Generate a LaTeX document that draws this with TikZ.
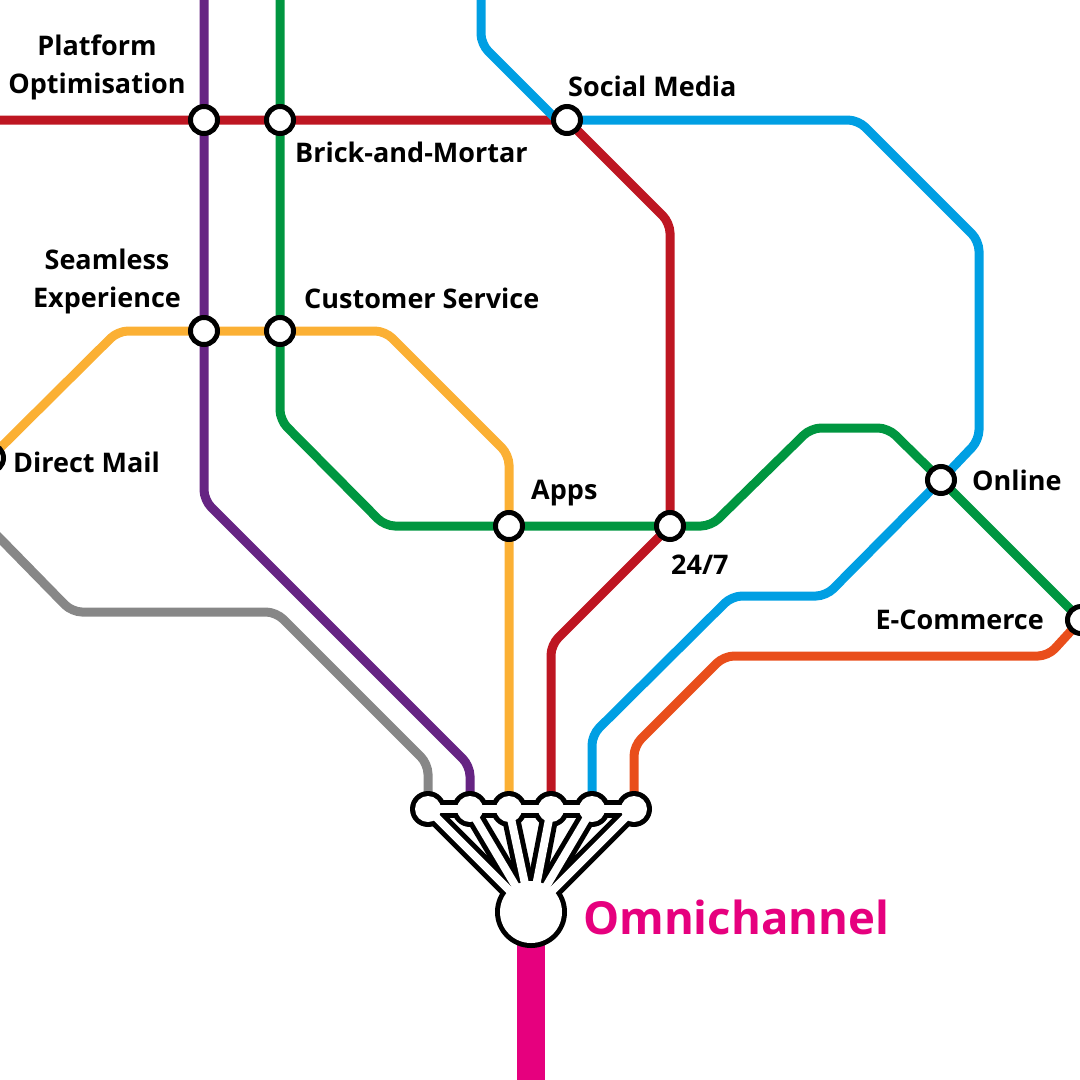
\documentclass[tikz,border=0pt]{standalone}
\usepackage{fontspec}
\setmainfont{Open Sans}
\usetikzlibrary{backgrounds}
\definecolor{cred}{HTML}{BE1622}
\definecolor{cpurple}{HTML}{662483}
\definecolor{cgreen}{HTML}{009640}
\definecolor{camber}{HTML}{FBB034}
\definecolor{cblue}{HTML}{009FE3}
\definecolor{cgrey}{HTML}{878787}
\definecolor{corange}{HTML}{E94E1B}
\definecolor{cpink}{HTML}{E6007E}
\pgfdeclarelayer{lines}
\pgfdeclarelayer{casing}
\pgfdeclarelayer{fan}
\pgfsetlayers{lines,casing,fan,main}
\tikzset{
  metro/.style={line width=9pt,rounded corners=10pt},
  station/.style={circle,draw=black,fill=white,line width=5pt,minimum size=27pt,inner sep=0pt},
  hubnode/.style={circle,fill=white,minimum size=26pt,inner sep=0pt},
  hubcase/.style={line width=18pt,black},
  hubwhite/.style={line width=8pt,white},
  lab/.style={font=\fontsize{27}{38}\selectfont\bfseries,text=black,inner sep=0pt,align=center},
}
\begin{document}
\begin{tikzpicture}[x=1pt,y=-1pt]
\useasboundingbox (0,0) rectangle (1080,1080);
\clip (0,0) rectangle (1080,1080);
% stations
\node[station] (plat) at (204,120) {};
\node[station] (brick) at (280,120) {};
\node[station] (social) at (567,120) {};
\node[station] (seam) at (204,331) {};
\node[station] (cust) at (280,331) {};
\node[station] (dmail) at (-10,458) {};
\node[station] (apps) at (509,526) {};
\node[station] (h247) at (670,526) {};
\node[station] (online) at (941,480) {};
\node[station] (ecom) at (1081,620) {};
% hub
\node[hubnode] (h1) at (428,809) {};
\node[hubnode] (h2) at (470,809) {};
\node[hubnode] (h3) at (509,809) {};
\node[hubnode] (h4) at (551,809) {};
\node[hubnode] (h5) at (592,809) {};
\node[hubnode] (h6) at (634,809) {};
\node[circle,fill=white,minimum size=62pt,inner sep=0pt] (omni) at (531,912) {};
\coordinate (tl) at (0,120);
\coordinate (bot) at (531,1080);
% lines
\begin{pgfonlayer}{lines}
\draw[metro,cred] (tl) -- (plat.center) -- (brick.center) -- (social.center) -- (670,223) -- (h247.center) -- (551,645) -- (h4.center);
\draw[metro,cpurple] (204,-5) -- (plat.center) -- (seam.center) -- (204,500) -- (470,766) -- (h2.center);
\draw[metro,cgreen] (280,-5) -- (brick.center) -- (cust.center) -- (280,420) -- (385,526) -- (apps.center) -- (h247.center) -- (711,526) -- (811,428) -- (888,428) -- (online.center) -- (ecom.center);
\draw[metro,camber] (dmail.center) -- (118,331) -- (seam.center) -- (cust.center) -- (385,331) -- (509,455) -- (apps.center) -- (h3.center);
\draw[metro,cgrey] (-20,518) -- (72,612) -- (276,612) -- (428,764) -- (h1.center);
\draw[metro,cblue] (481,-5) -- (481,44) -- (562,125);
\draw[metro,cblue] (social.center) -- (858,120) -- (979,241) -- (979,440) -- (online.center) -- (826,596) -- (732,596) -- (592,735) -- (h5.center);
\draw[metro,corange] (ecom.center) -- (1048,656) -- (724,656) -- (634,746) -- (h6.center);
\draw[line width=28pt,cpink] (omni.center) -- (bot);
\end{pgfonlayer}
% hub casing
\begin{pgfonlayer}{casing}
\foreach \n in {h1,h2,h3,h4,h5,h6}{
  \fill[black] (\n) circle (18pt);
  \draw[hubcase] (\n.center) -- (omni.center);
}
\fill[black] (omni) circle (36pt);
\draw[hubcase] (h1.center) -- (h6.center);
\end{pgfonlayer}
\begin{pgfonlayer}{fan}
\foreach \n in {h1,h2,h3,h4,h5,h6}{
  \draw[hubwhite] (\n.center) -- (omni.center);
}
\draw[hubwhite] (h1.center) -- (h6.center);
\end{pgfonlayer}
% labels
\node[lab] (t1) at (97,67) {Platform\\Optimisation};
\node[lab,anchor=west] (t2) at (295,152) {Brick-and-Mortar};
\node[lab,anchor=west] (t3) at (568,86) {Social Media};
\node[lab] (t4) at (107,281) {Seamless\\Experience};
\node[lab,anchor=west] (t5) at (304,298) {Customer Service};
\node[lab,anchor=west] (t6) at (13,462) {Direct Mail};
\node[lab,anchor=west] (t7) at (531,493) {Apps};
\node[lab,anchor=west] (t8) at (671,565) {24/7};
\node[lab,anchor=west] (t9) at (972,480) {Online};
\node[lab,anchor=east] (t10) at (1044,620) {E-Commerce};
\node[inner sep=0pt,anchor=west,text=cpink,font=\fontsize{45.5}{60}\selectfont\bfseries] (t11) at (583,917) {Omnichannel};
\end{tikzpicture}
\end{document}
